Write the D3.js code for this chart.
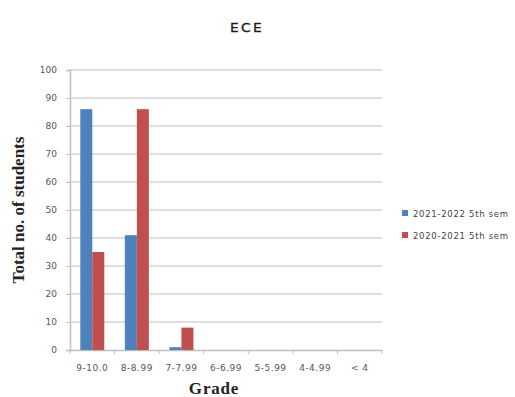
<!DOCTYPE html>
<html><head><meta charset="utf-8">
<script src="https://cdn.jsdelivr.net/npm/d3@7"></script>
<style>body{margin:0;background:#fff}</style>
</head><body><svg id="c" width="515" height="397"></svg>
<script>
const categories = ["9-10.0","8-8.99","7-7.99","6-6.99","5-5.99","4-4.99","< 4"];
const series1Name = "2021-2022 5th sem";
const series1 = [86,41,1,0,0,0,0];
const series2Name = "2020-2021 5th sem";
const series2 = [35,86,8,0,0,0,0];
const yTicks = [0,10,20,30,40,50,60,70,80,90,100];
const colors = ["#4f81bd","#c0504d"];

const svg = d3.select("#c");
const L=70, R=382, T=70, B=350;
const x = d3.scaleBand().domain(categories).range([L,R]);
const y = d3.scaleLinear().domain([0,100]).range([B,T]);

// gridlines
svg.append("g").selectAll("line").data(yTicks.filter(d=>d>0)).join("line")
  .attr("x1",L).attr("x2",R).attr("y1",d=>y(d)).attr("y2",d=>y(d))
  .attr("stroke","#d4d4d4").attr("stroke-width",1.5);

// y axis
const ya = svg.append("g").attr("transform",`translate(${L},0)`)
  .call(d3.axisLeft(y).tickValues(yTicks).tickSize(4).tickPadding(9));
ya.select(".domain").attr("stroke","#bfbfbf").attr("stroke-width",1.5);
ya.selectAll(".tick line").attr("stroke","#bfbfbf");
ya.selectAll("text").attr("fill","#555").style("font-family","DejaVu Sans, sans-serif").style("font-size","9px");

// x axis
const xa = svg.append("g").attr("transform",`translate(0,${B})`)
  .call(d3.axisBottom(x).tickSize(0).tickPadding(15));
xa.select(".domain").attr("stroke","#bfbfbf").attr("stroke-width",1.5);
xa.selectAll("text").attr("fill","#555").style("font-family","DejaVu Sans, sans-serif").style("font-size","9px").style("letter-spacing","0.5px");
const edges = categories.map(c=>x(c)).concat([R]);
svg.append("g").selectAll("line").data(edges).join("line")
  .attr("x1",d=>d).attr("x2",d=>d).attr("y1",B).attr("y2",B+4)
  .attr("stroke","#bfbfbf");

// bars
const bw = 12;
const data = [series1, series2];
data.forEach((s,si)=>{
  svg.append("g").selectAll("rect").data(s.map((v,i)=>({v,c:categories[i]}))).join("rect")
    .attr("x",d=>x(d.c)+x.bandwidth()/2 - bw + si*bw)
    .attr("width",bw)
    .attr("y",d=>y(d.v))
    .attr("height",d=>B-y(d.v))
    .attr("fill",colors[si]);
});

// title
svg.append("text").attr("transform","translate(230,31.5) scale(1.15,1)").attr("text-anchor","start")
  .style("font-family","DejaVu Sans, sans-serif").style("font-size","12px").style("letter-spacing","2px")
  .style("stroke","#1a1a1a").style("stroke-width","0.3px")
  .attr("fill","#1a1a1a").text("ECE");

// axis titles
svg.append("text").attr("transform","translate(24,210) rotate(-90)").attr("text-anchor","middle")
  .style("font-family","Liberation Serif, Times New Roman, serif").style("font-weight","bold").style("font-size","17px")
  .attr("fill","#222").text("Total no. of students");
svg.append("text").attr("x",214).attr("y",394).attr("text-anchor","middle")
  .style("font-family","Liberation Serif, Times New Roman, serif").style("font-weight","bold").style("font-size","17px").style("letter-spacing","0.8px")
  .attr("fill","#222").text("Grade");

// legend
const leg = [series1Name, series2Name];
leg.forEach((n,i)=>{
  const yy = 210 + i*22;
  svg.append("rect").attr("x",402).attr("y",yy).attr("width",6).attr("height",6).attr("fill",colors[i]);
  svg.append("text").attr("x",413).attr("y",yy+6.5)
    .style("font-family","DejaVu Sans, sans-serif").style("font-size","8.5px").style("letter-spacing","0.7px").attr("fill","#444").text(n);
});
</script></body></html>
